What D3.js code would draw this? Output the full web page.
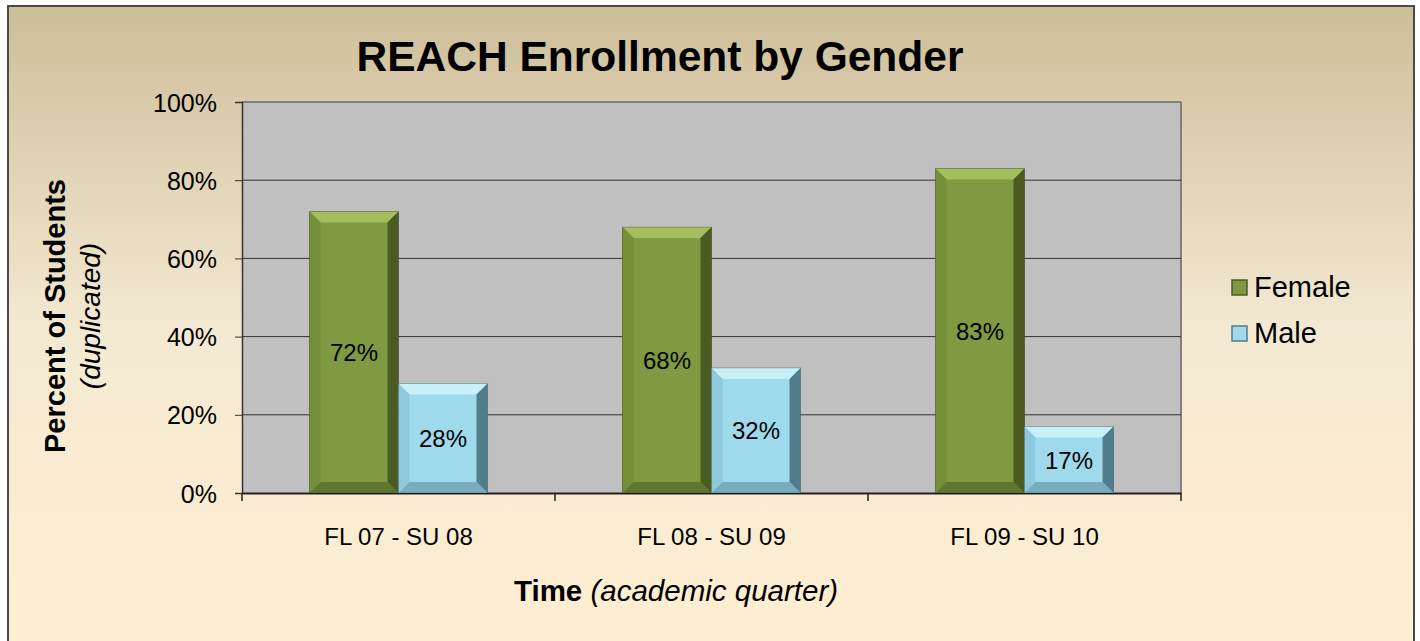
<!DOCTYPE html>
<html><head><meta charset="utf-8">
<script src="https://cdn.jsdelivr.net/npm/d3@7"></script>
<style>body{margin:0;background:#fff}svg{display:block}text{font-family:Arial,"Liberation Sans",sans-serif}</style>
</head><body>
<script>
const categories = ["FL 07 - SU 08", "FL 08 - SU 09", "FL 09 - SU 10"];
const seriesNames = ["Female", "Male"];
const female = [72, 68, 83];
const male = [28, 32, 17];
const yTicks = [0, 20, 40, 60, 80, 100];

(function () {
const W = 1420, H = 641;
const svg = d3.select("body").append("svg").attr("width", W).attr("height", H);
const defs = svg.append("defs");
const bg = defs.append("linearGradient").attr("id", "bg").attr("x1", 0).attr("y1", 0).attr("x2", 0).attr("y2", 1);
bg.append("stop").attr("offset", "0").attr("stop-color", "#cdbe99");
bg.append("stop").attr("offset", "0.5").attr("stop-color", "#f3e9d2");
bg.append("stop").attr("offset", "1").attr("stop-color", "#ffefd2");

svg.append("rect").attr("x", 8).attr("y", 6).attr("width", 1406).attr("height", 640)
  .attr("fill", "url(#bg)").attr("stroke", "#4a4a4a").attr("stroke-width", 2);

const pL = 242, pR = 1181, pT = 102, pB = 493;
const x0 = d3.scaleBand().domain(categories).range([pL, pR]).padding(0);
const x1 = d3.scaleBand().domain(seriesNames).range([0, x0.bandwidth()]).paddingInner(0).paddingOuter(0.758);
const y = d3.scaleLinear().domain([0, 100]).range([pB, pT]);

// plot area
svg.append("rect").attr("x", pL).attr("y", pT).attr("width", pR - pL).attr("height", pB - pT).attr("fill", "#c0c0c0");
svg.append("line").attr("x1", pL).attr("x2", pR).attr("y1", pT).attr("y2", pT).attr("stroke", "#808080").attr("stroke-width", 2);
svg.append("line").attr("x1", pR).attr("x2", pR).attr("y1", pT).attr("y2", pB).attr("stroke", "#808080").attr("stroke-width", 2);

// grid
svg.append("g").selectAll("line").data(yTicks.filter(d => d > 0 && d < 100)).join("line")
  .attr("x1", pL).attr("x2", pR).attr("y1", d => y(d)).attr("y2", d => y(d))
  .attr("stroke", "#333").attr("stroke-width", 1);

// y axis
const yAxis = svg.append("g").attr("transform", `translate(${pL},0)`)
  .call(d3.axisLeft(y).tickValues(yTicks).tickFormat(d => d + "%").tickSize(7).tickPadding(18));
yAxis.select(".domain").attr("stroke", "#333").attr("stroke-width", 1.5);
yAxis.selectAll(".tick line").attr("stroke", "#333");
yAxis.selectAll("text").attr("font-size", 25).attr("fill", "#000").attr("font-family", "Arial").attr("dy", "0.36em");

// x axis
const xAxis = svg.append("g").attr("transform", `translate(0,${pB})`)
  .call(d3.axisBottom(x0).tickSize(0));
xAxis.select(".domain").attr("stroke", "#222").attr("stroke-width", 2);
xAxis.selectAll("text").attr("font-size", 24).attr("fill", "#000").attr("font-family", "Arial")
  .attr("y", 52).attr("dy", 0);
svg.append("g").selectAll("line").data(d3.range(categories.length + 1)).join("line")
  .attr("x1", i => pL + i * x0.step()).attr("x2", i => pL + i * x0.step())
  .attr("y1", pB).attr("y2", pB + 8).attr("stroke", "#222").attr("stroke-width", 1.5);

const colors = {
  Female: {face: "#7f9a40", top: "#a3bd5f", left: "#758f39", right: "#4b5c22", bottom: "#607630"},
  Male: {face: "#9fd9ec", top: "#c8f0fb", left: "#8fcadc", right: "#4f7d8c", bottom: "#79adbd"}
};

const data = [];
categories.forEach((c, i) => {
  data.push({cat: c, s: "Female", v: female[i]});
  data.push({cat: c, s: "Male", v: male[i]});
});

const bars = svg.append("g").selectAll("g").data(data).join("g");
bars.each(function(d) {
  const g = d3.select(this);
  const bx = x0(d.cat) + x1(d.s), bw = x1.bandwidth();
  const by = y(d.v), bh = pB - by;
  const b = Math.min(11, bh / 3);
  const c = colors[d.s];
  const X0 = bx, X1 = bx + bw, Y0 = by, Y1 = pB;
  const pts = a => a.map(p => p.join(",")).join(" ");
  g.append("rect").attr("x", X0).attr("y", Y0).attr("width", bw).attr("height", bh).attr("fill", c.face);
  g.append("polygon").attr("points", pts([[X0, Y0], [X1, Y0], [X1 - b, Y0 + b], [X0 + b, Y0 + b]])).attr("fill", c.top);
  g.append("polygon").attr("points", pts([[X0, Y0], [X0 + b, Y0 + b], [X0 + b, Y1 - b], [X0, Y1]])).attr("fill", c.left);
  g.append("polygon").attr("points", pts([[X1, Y0], [X1, Y1], [X1 - b, Y1 - b], [X1 - b, Y0 + b]])).attr("fill", c.right);
  g.append("polygon").attr("points", pts([[X0, Y1], [X0 + b, Y1 - b], [X1 - b, Y1 - b], [X1, Y1]])).attr("fill", c.bottom);
  g.append("rect").attr("x", X0).attr("y", Y0).attr("width", bw).attr("height", bh).attr("fill", "none").attr("stroke", "rgba(0,0,0,0.25)").attr("stroke-width", 1);
  g.append("text").attr("x", bx + bw / 2).attr("y", y(d.v / 2) + 9).attr("text-anchor", "middle")
    .attr("font-size", 24).attr("fill", "#000").text(d.v + "%");
});

// title
svg.append("text").attr("x", 660).attr("y", 71).attr("text-anchor", "middle")
  .attr("font-size", 42.5).attr("font-weight", "bold").text("REACH Enrollment by Gender");

// y title
svg.append("text").attr("transform", "translate(65,316) rotate(-90)").attr("text-anchor", "middle")
  .attr("font-size", 29).attr("font-weight", "bold").text("Percent of Students");
svg.append("text").attr("transform", "translate(100,316) rotate(-90)").attr("text-anchor", "middle")
  .attr("font-size", 28).attr("font-style", "italic").text("(duplicated)");

// x title
const xt = svg.append("text").attr("x", 676).attr("y", 601).attr("text-anchor", "middle").attr("font-size", 29.5);
xt.append("tspan").attr("font-weight", "bold").text("Time ");
xt.append("tspan").attr("font-style", "italic").text("(academic quarter)");

// legend
const leg = svg.append("g").selectAll("g").data(seriesNames).join("g")
  .attr("transform", (d, i) => `translate(1232,${280 + i * 46})`);
leg.append("rect").attr("width", 15).attr("height", 15).attr("fill", d => colors[d].face)
  .attr("stroke", d => colors[d].right).attr("stroke-width", 1.5);
leg.append("text").attr("x", 22).attr("y", 17).attr("font-size", 29).text(d => d);
})();
</script>
</body></html>
